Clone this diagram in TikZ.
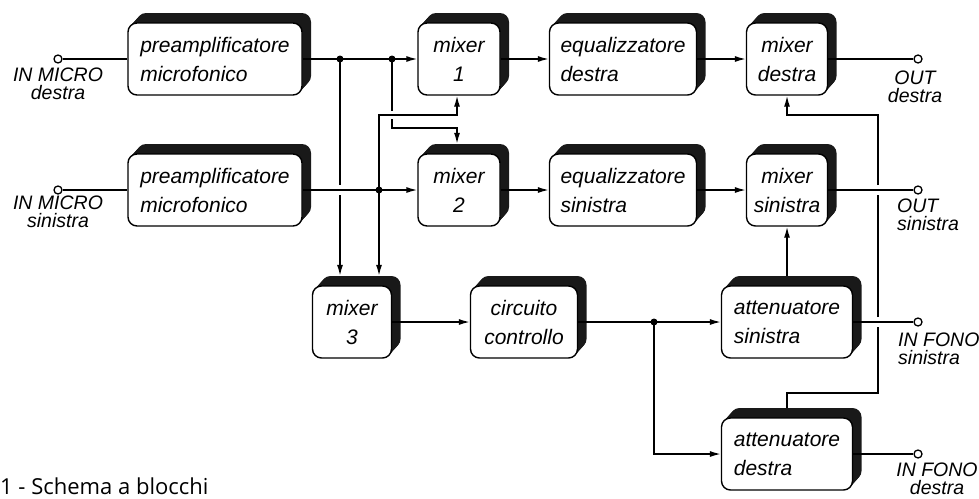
\documentclass[tikz,border=0pt]{standalone}
\usepackage{fontspec}
\setsansfont{Liberation Sans}
\newfontfamily\capfont{Open Sans}
\usetikzlibrary{arrows.meta}
\newcommand\blk[6]{%
  \foreach \k in {1,...,8} {
    \node[shadebox, minimum width=#4pt, xshift=\k pt, yshift={1.11*\k pt}] at (#2,#3) {};
  }
  \node[shadebox, minimum width=#4pt, xshift=9pt, yshift=10pt] (#1s) at (#2,#3) {};
  \node[box, minimum width=#4pt, align=#5] (#1) at (#2,#3) {#6};}
\begin{document}
\begin{tikzpicture}[x=1pt,y=-1pt,
  box/.style={draw, line width=1.4pt, rounded corners=9pt, fill=white, minimum height=72pt, inner sep=0pt,
    font=\sffamily\itshape\fontsize{21}{29}\selectfont},
  shadebox/.style={fill=black!90, rounded corners=9pt, minimum height=72pt, inner sep=0pt},
  wire/.style={line width=1.4pt},
  arr/.style={wire, -{Latex[length=11pt,width=6pt]}},
  dot/.style={circle, fill, inner sep=0pt, minimum size=7pt},
  term/.style={circle, draw, line width=1.3pt, fill=white, inner sep=0pt, minimum size=8pt},
  tlab/.style={font=\sffamily\itshape\fontsize{19.5}{18}\selectfont, inner sep=0pt}
]
\useasboundingbox (0,0) rectangle (979,498);
\fill[white] (0,0) rectangle (979,498);

% blocks
\blk{pa1}{215}{59}{174}{left}{preamplificatore\\microfonico}
\blk{pa2}{215}{190}{174}{left}{preamplificatore\\microfonico}
\blk{m1}{459}{59}{82}{center}{mixer\\1}
\blk{m2}{459}{190}{82}{center}{mixer\\2}
\blk{eqd}{623}{59}{147}{left}{equalizzatore\\destra}
\blk{eqs}{623}{190}{147}{left}{equalizzatore\\sinistra}
\blk{mxd}{787}{59}{81}{center}{mixer\\destra}
\blk{mxs}{787}{190}{81}{center}{mixer\\sinistra}
\blk{m3}{352}{322}{79}{center}{mixer\\3}
\blk{cc}{524}{322}{107}{center}{circuito\\controllo}
\blk{ats}{787}{322}{131}{left}{attenuatore\\sinistra}
\blk{atd}{787}{454}{131}{left}{attenuatore\\destra}

% terminals
\node[term] (imd) at (58,59) {};
\node[term] (ims) at (58,190) {};
\node[term] (od) at (918,59) {};
\node[term] (os) at (918,190) {};
\node[term] (ifs) at (918,322) {};
\node[term] (ifd) at (918,454) {};

% terminal labels
\node[tlab, align=center, anchor=north] (limd) at (58,68) {IN MICRO\\destra};
\node[tlab, align=center, anchor=north] (lims) at (58,196) {IN MICRO\\sinistra};
\node[tlab, align=center, anchor=north] (lod) at (915,71) {OUT\\destra};
\node[tlab, align=left, anchor=north west] (los) at (897,199) {OUT\\sinistra};
\node[tlab, align=left, anchor=north west] (lifs) at (898,333) {IN FONO\\sinistra};
\node[tlab, align=center, anchor=north] (lifd) at (937,463) {IN FONO\\destra};

% caption
\node[font=\capfont\fontsize{22}{22}\selectfont, anchor=base west, inner sep=0pt] (cap) at (0,494) {1 - Schema a blocchi};

% junctions
\coordinate (j1) at (340,59);
\coordinate (j2) at (392,59);
\coordinate (j3) at (379,190);
\coordinate (j4) at (654,322);
\coordinate (c1) at (457,115);
\coordinate (c2) at (457,128);
\coordinate (c5) at (787,115);
\coordinate (c4) at (878,393);

% row wires
\draw[wire] (imd.east) -- (pa1.west);
\draw[arr] (pa1.east) -- (m1.west);
\draw[arr] (m1.east) -- (eqd.west);
\draw[arr] (eqd.east) -- (mxd.west);
\draw[wire] (mxd.east) -- (od.west);
\draw[wire] (ims.east) -- (pa2.west);
\draw[arr] (pa2.east) -- (m2.west);
\draw[arr] (m2.east) -- (eqs.west);
\draw[arr] (eqs.east) -- (mxs.west);
\draw[wire] (mxs.east) -- (os.west);
\draw[arr] (m3.east) -- (cc.west);
\draw[arr] (cc.east) -- (ats.west);
\draw[arr] (j4) |- (atd.west);
\draw[wire] (ats.east) -- (ifs.west);
\draw[wire] (atd.east) -- (ifd.west);

% cross connections
\draw[wire] (j1) -- (340,185);
\draw[arr] (340,195) -- (j1 |- m3s.north);
\draw[wire] (j2) -- (392,111);
\draw[arr] (392,119) |- (c2) -- (c2 |- m2s.north);
\draw[arr] (j3) |- (c1) -- (c1 |- m1.south);
\draw[arr] (j3) -- (j3 |- m3s.north);

% right side feedback
\draw[wire] (atd |- atds.north) |- (c4) -- (878,327);
\draw[wire] (878,317) -- (878,195);
\draw[arr] (878,185) |- (c5) -- (mxd.south);
\draw[arr] (ats |- atss.north) -- (mxs.south);

% dots
\node[dot] (d1) at (j1) {};
\node[dot] (d2) at (j2) {};
\node[dot] (d3) at (j3) {};
\node[dot] (d4) at (j4) {};
\end{tikzpicture}
\end{document}
